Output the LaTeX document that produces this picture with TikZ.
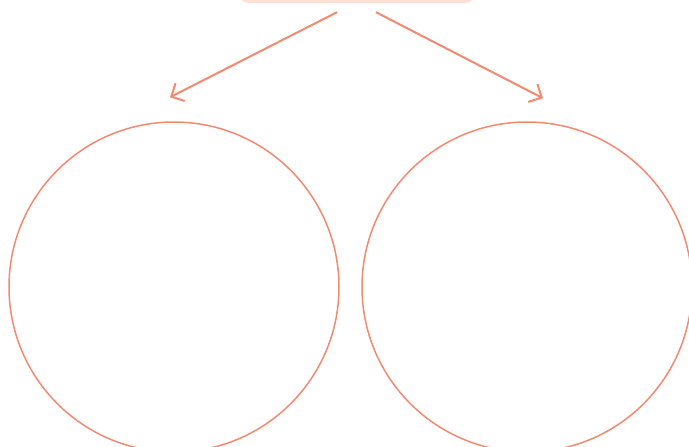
\documentclass[tikz,border=0pt]{standalone}
\usepackage{tikz}
\usetikzlibrary{arrows.meta,positioning,calc}
\definecolor{salmonline}{HTML}{F28A72}
\definecolor{salmonfill}{HTML}{FDE0D5}

\begin{document}
\begin{tikzpicture}[x=1pt,y=-1pt,
  topbox/.style={fill=salmonfill,draw=none,rounded corners=12pt,minimum width=240pt,minimum height=40pt,inner sep=0pt},
  bubble/.style={circle,draw=salmonline,line width=1.5pt,minimum size=330pt,inner sep=0pt},
  link/.style={-{Straight Barb[length=10pt,width=20pt,line width=2pt]},salmonline,line width=2pt}]
 \useasboundingbox (0,0) rectangle (689,447);
 \clip (0,0) rectangle (689,447);
 \node[topbox] (root) at (357,-17) {};
 \node[bubble] (left) at (174,287) {};
 \node[bubble] (right) at (527,287) {};
 \draw[link] ($(root.south)+(-20,9)$) -- ($(left.north)+(-4,-24)$);
 \draw[link] ($(root.south)+(19,9)$) -- ($(right.north)+(16,-23)$);
\end{tikzpicture}
\end{document}
